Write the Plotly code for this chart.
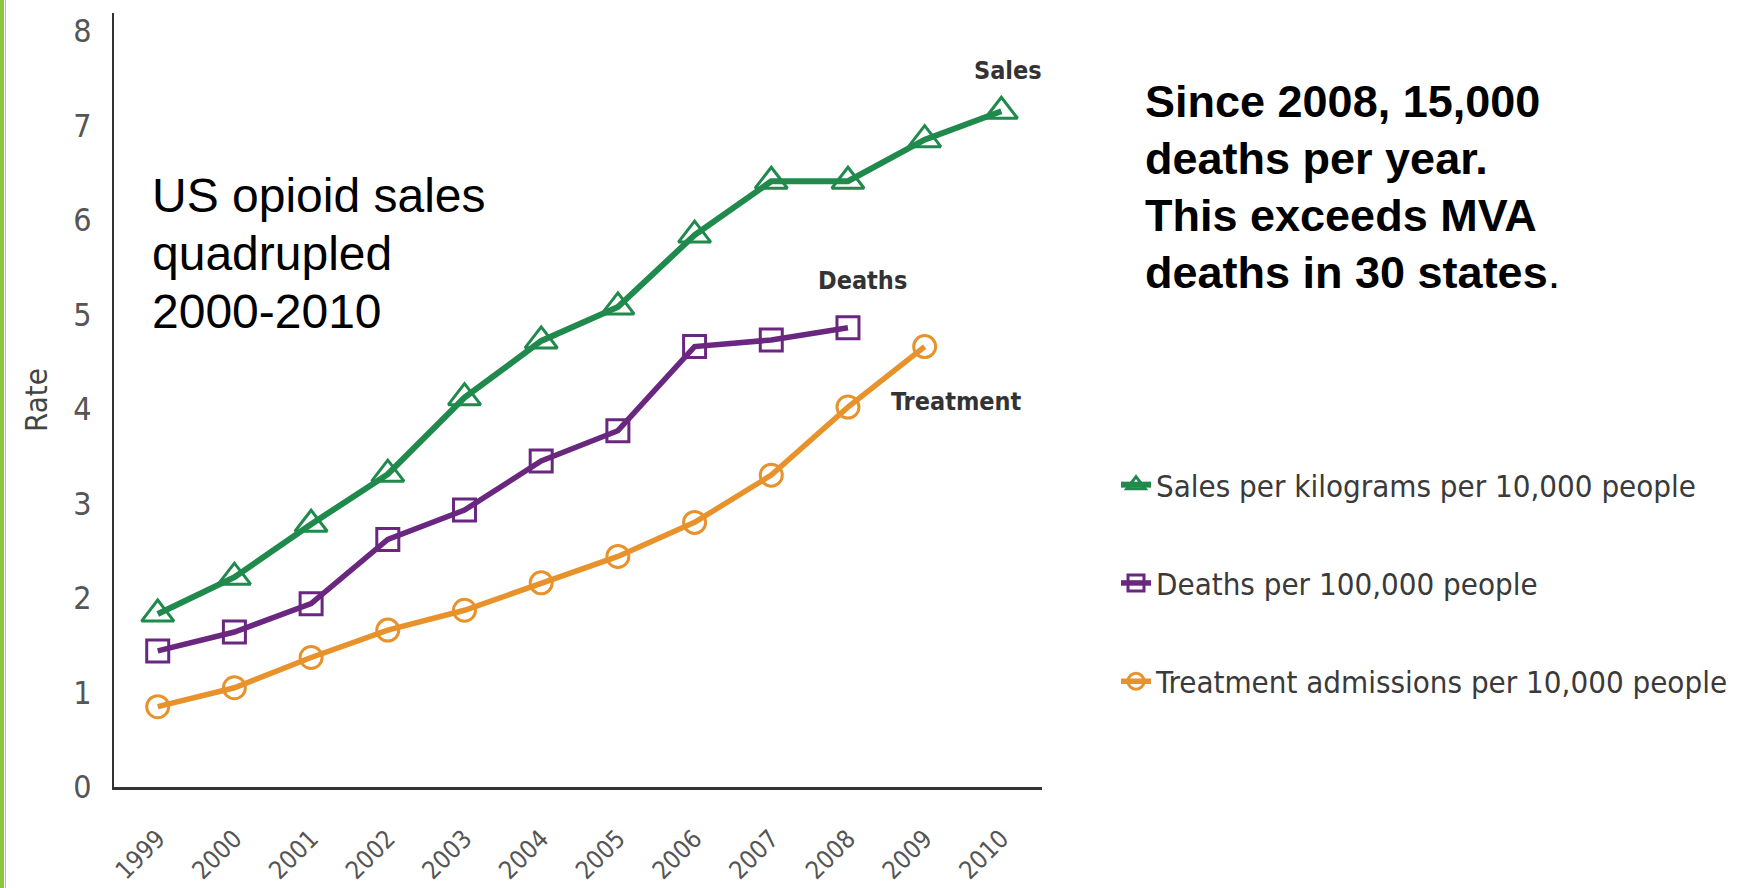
import plotly.graph_objects as go

years = [1999, 2000, 2001, 2002, 2003, 2004, 2005, 2006, 2007, 2008, 2009, 2010]
sales = [1.83, 2.22, 2.78, 3.31, 4.12, 4.72, 5.08, 5.84, 6.41, 6.41, 6.85, 7.15]
deaths = [1.44, 1.64, 1.94, 2.62, 2.93, 3.45, 3.77, 4.66, 4.73, 4.86]
treatment = [0.85, 1.05, 1.37, 1.66, 1.87, 2.16, 2.44, 2.80, 3.30, 4.02, 4.66]
y_ticks = [0, 1, 2, 3, 4, 5, 6, 7, 8]

left_note = ["US opioid sales", "quadrupled", "2000-2010"]
right_note = ["<b>Since 2008, 15,000</b>", "<b>deaths per year.</b>",
              "<b>This exceeds MVA</b>", "<b>deaths in 30 states</b>."]

W, H = 1739, 888
L, R, T, B = 114, 697, 13, 101
PW = W - L - R
PH = H - T - B

def px(x):
    return (x - L) / PW

def py(y):
    return (H - B - y) / PH

NARROW = "Liberation Sans Narrow, Arial Narrow, DejaVu Sans Condensed, sans-serif"
ARIAL = "Liberation Sans, Arial, sans-serif"
GREEN = "#1f8a4c"
PURPLE = "#6a2780"
ORANGE = "#e8922c"

fig = go.Figure()
fig.add_trace(go.Scatter(
    x=years, y=sales, mode="lines+markers", name="Sales per kilograms per 10,000 people",
    legendgroup="s", line=dict(color=GREEN, width=6),
    marker=dict(symbol="triangle-up-open", size=28, color=GREEN, line=dict(width=3, color=GREEN))))
fig.add_trace(go.Scatter(
    x=years[:len(deaths)], y=deaths, mode="lines+markers", name="Deaths per 100,000 people",
    legendgroup="d", line=dict(color=PURPLE, width=5.5),
    marker=dict(symbol="square-open", size=22, color=PURPLE, line=dict(width=3, color=PURPLE))))
fig.add_trace(go.Scatter(
    x=years[:len(treatment)], y=treatment, mode="lines+markers", name="Treatment admissions per 10,000 people",
    legendgroup="t", line=dict(color=ORANGE, width=5.5),
    marker=dict(symbol="circle-open", size=22, color=ORANGE, line=dict(width=3, color=ORANGE))))

fig.update_layout(
    width=W, height=H,
    margin=dict(l=L, r=R, t=T, b=B, autoexpand=False),
    paper_bgcolor="white", plot_bgcolor="white",
    showlegend=True,
    legend=dict(xref="container", yref="container", x=1116 / W, y=1 - 458 / H,
                xanchor="left", yanchor="top",
                traceorder="grouped", tracegroupgap=55,
                font=dict(family=NARROW, size=31, color="#3a3a3a"),
                bgcolor="rgba(0,0,0,0)"),
    xaxis=dict(range=[1998.43, 2010.53], tickmode="array", tickvals=years,
               ticktext=[str(y) for y in years], tickangle=-45,
               showgrid=False, zeroline=False, showline=True, linecolor="#333", linewidth=3,
               ticks="", ticklabelstandoff=24,
               tickfont=dict(family=NARROW, size=25, color="#555"), automargin=False),
    yaxis=dict(range=[0, 8.19], tickmode="array", tickvals=y_ticks,
               showgrid=False, zeroline=False, showline=True, linecolor="#333", linewidth=2,
               ticks="", ticklabelstandoff=14,
               tickfont=dict(family=NARROW, size=32, color="#555"),
               title=dict(text="Rate", font=dict(family=NARROW, size=31, color="#444"), standoff=16),
               automargin=False),
)

for i, line in enumerate(left_note):
    fig.add_annotation(xref="paper", yref="paper", x=px(150), y=py(196 + 57.5 * i),
                       xanchor="left", yanchor="middle", text=line, showarrow=False,
                       font=dict(family=ARIAL, size=48, color="black"))
for i, line in enumerate(right_note):
    fig.add_annotation(xref="paper", yref="paper", x=px(1143), y=py(101.5 + 57 * i),
                       xanchor="left", yanchor="middle", text=line, showarrow=False,
                       font=dict(family=ARIAL, size=45, color="black"))

for txt, xx, yy in [("Sales", 2010.09, 7.58), ("Deaths", 2008.19, 5.36), ("Treatment", 2009.42, 4.08)]:
    fig.add_annotation(x=xx, y=yy, text="<b>" + txt + "</b>", showarrow=False,
                       font=dict(family=NARROW, size=25, color="#333"))

fig.add_shape(type="rect", xref="paper", yref="paper", x0=px(0), x1=px(4), y0=py(H), y1=py(0),
              fillcolor="#8cc63e", line=dict(width=0), layer="below")
fig.add_shape(type="line", xref="paper", yref="paper", x0=px(5.5), x1=px(5.5), y0=py(H), y1=py(0),
              line=dict(color="#b8b8b8", width=1), layer="below")

fig.write_html("out.html")
